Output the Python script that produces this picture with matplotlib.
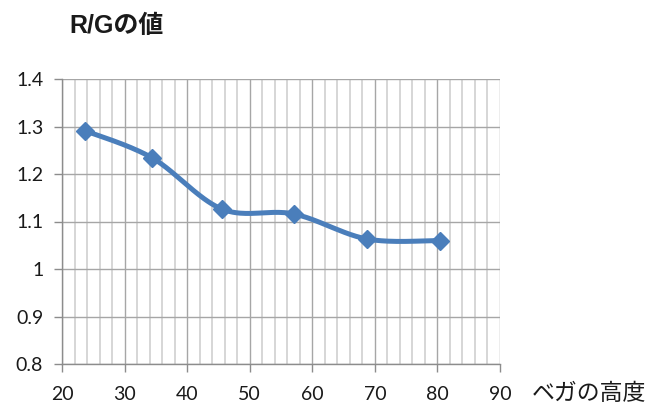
import numpy as np
import matplotlib
matplotlib.use("Agg")
import matplotlib.pyplot as plt
from matplotlib.ticker import MultipleLocator, FixedLocator

plt.rcParams['font.family'] = ['Lato', 'Noto Sans CJK JP', 'DejaVu Sans']

# Altitude of Vega (degrees) and measured R/G ratio
altitude = [23.7, 34.4, 45.6, 57.0, 68.8, 80.4]
rg_ratio = [1.291, 1.234, 1.126, 1.116, 1.063, 1.060]

x_ticks = [20, 30, 40, 50, 60, 70, 80, 90]
y_ticks = [0.8, 0.9, 1.0, 1.1, 1.2, 1.3, 1.4]
y_tick_labels = ["0.8", "0.9", "1", "1.1", "1.2", "1.3", "1.4"]

title_text = "R/Gの値"
xlabel_text = "ベガの高度"

line_color = "#4a7ebb"


def smooth_curve(xs, ys, n=40):
    """Catmull-Rom style cubic Bezier through the points (spreadsheet 'smoothed line')."""
    xs = np.asarray(xs, float)
    ys = np.asarray(ys, float)
    px = np.concatenate([[xs[0]], xs, [xs[-1]]])
    py = np.concatenate([[ys[0]], ys, [ys[-1]]])
    out_x, out_y = [], []
    t = np.linspace(0, 1, n)
    for i in range(1, len(px) - 2):
        p0 = np.array([px[i], py[i]])
        p3 = np.array([px[i + 1], py[i + 1]])
        c1 = p0 + (np.array([px[i + 1], py[i + 1]]) - np.array([px[i - 1], py[i - 1]])) / 6
        c2 = p3 - (np.array([px[i + 2], py[i + 2]]) - np.array([px[i], py[i]])) / 6
        b = ((1 - t) ** 3)[:, None] * p0 + (3 * (1 - t) ** 2 * t)[:, None] * c1 \
            + (3 * (1 - t) * t ** 2)[:, None] * c2 + (t ** 3)[:, None] * p3
        out_x.extend(b[:, 0])
        out_y.extend(b[:, 1])
    return np.array(out_x), np.array(out_y)


fig = plt.figure(figsize=(6.6, 4.07), dpi=100)
ax = fig.add_axes([62 / 660, 1 - 364 / 407, 438 / 660, 285 / 407])

ax.set_xlim(20, 90)
ax.set_ylim(0.8, 1.4)

ax.xaxis.set_major_locator(FixedLocator(x_ticks))
ax.xaxis.set_minor_locator(MultipleLocator(2))
ax.yaxis.set_major_locator(FixedLocator(y_ticks))
ax.set_yticklabels(y_tick_labels)

ax.grid(which='major', axis='both', color='#a6a6a6', linewidth=1.0)
ax.grid(which='minor', axis='x', color='#cfcfcf', linewidth=1.2)
ax.set_axisbelow(True)

for side in ['top', 'right']:
    ax.spines[side].set_visible(False)
ax.spines['left'].set_color('#8c8c8c')
ax.spines['bottom'].set_color('#8c8c8c')
ax.spines['left'].set_linewidth(1.0)
ax.spines['bottom'].set_linewidth(1.0)

ax.tick_params(axis='both', which='major', length=5.5, width=1.0, color='#8c8c8c',
               labelsize=14, labelcolor='#1a1a1a')
ax.tick_params(axis='x', which='minor', length=0)
ax.tick_params(axis='x', pad=10.5)
ax.tick_params(axis='y', pad=8)

sx, sy = smooth_curve(altitude, rg_ratio)
ax.plot(sx, sy, color=line_color, linewidth=3.6, solid_capstyle='round', zorder=3)
ax.plot(altitude, rg_ratio, linestyle='none', marker='D', markersize=9.5,
        color=line_color, markeredgecolor=line_color, zorder=4)

fig.text(69 / 660, 1 - 26 / 407, title_text, fontsize=18, fontweight='bold',
         ha='left', va='center', color='#1a1a1a',
         family=['Liberation Sans', 'Noto Sans CJK JP'])
fig.text(532 / 660, 1 - 394 / 407, xlabel_text, fontsize=16.5,
         ha='left', va='center', color='#1a1a1a',
         family=['Noto Sans CJK JP'])

fig.savefig("out.png", dpi=100)
